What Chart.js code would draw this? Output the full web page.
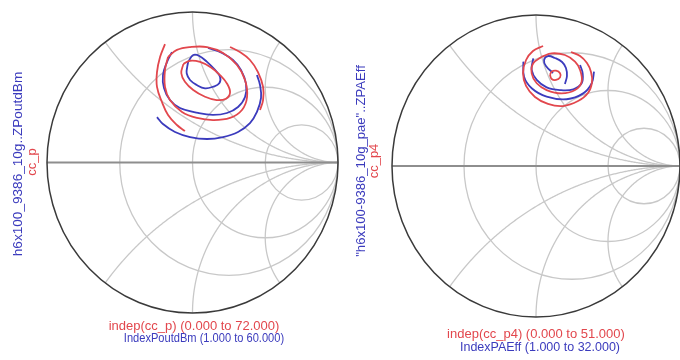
<!DOCTYPE html>
<html>
<head>
<meta charset="utf-8">
<script src="https://cdn.jsdelivr.net/npm/chart.js@4.4.1/dist/chart.umd.min.js"></script>
<style>
  body { margin: 0; width: 680px; height: 360px; background: #fff; position: relative; overflow: hidden;
         font-family: Arial, "Liberation Sans", sans-serif; }
  canvas { position: absolute; top: 0; }
  .lbl { position: absolute; white-space: nowrap; font-size: 13px; line-height: 13px;
         transform: translate(-50%, -50%); }
  .rot { transform: translate(-50%, -50%) rotate(-90deg); }
  .red { color: #e2474d; }
  .blue { color: #3b3bbd; }
</style>
</head>
<body>
<canvas id="poutChart" width="345" height="360" style="left:0"></canvas>
<canvas id="paeChart" width="335" height="360" style="left:345px"></canvas>

<div class="lbl rot blue" style="left:17px;top:164px;font-size:13.6px">h6x100_9386_10g..ZPoutdBm</div>
<div class="lbl rot red" style="left:31px;top:162px">cc_p</div>
<div class="lbl red" style="left:194px;top:325px">indep(cc_p) (0.000 to 72.000)</div>
<div class="lbl blue" style="left:204px;top:338px;font-size:12.2px;transform:translate(-50%,-50%) scaleX(0.91)">IndexPoutdBm (1.000 to 60.000)</div>

<div class="lbl rot blue" style="left:360px;top:161px;font-size:13.1px">"h6x100-9386_10g_pae"..ZPAEff</div>
<div class="lbl rot red" style="left:373px;top:161px">cc_p4</div>
<div class="lbl red" style="left:536px;top:333px">indep(cc_p4) (0.000 to 51.000)</div>
<div class="lbl blue" style="left:540px;top:347px;font-size:12.5px">IndexPAEff (1.000 to 32.000)</div>

<script>
// Smith chart grid values
const rCircles = [1 / 3, 1, 3];
const xArcs = [0.5, 1, 2, -0.5, -1, -2];

// Output power contours, reflection coefficient [re, im]
const ccP_inner = [[-0.063,0.654],[-0.077,0.593],[-0.052,0.537],[0.005,0.482],[0.086,0.437],[0.166,0.415],
  [0.230,0.424],[0.258,0.464],[0.239,0.522],[0.189,0.581],[0.125,0.633],[0.052,0.668],[-0.017,0.676],[-0.063,0.654]];
const ccP_mid = [[-0.168,0.701],[-0.107,0.748],[-0.017,0.767],[0.100,0.767],[0.210,0.728],[0.306,0.648],
  [0.361,0.548],[0.375,0.435],[0.340,0.349],[0.258,0.296],[0.141,0.282],[0.031,0.296],[-0.072,0.336],
  [-0.155,0.415],[-0.189,0.502],[-0.189,0.615],[-0.168,0.701]];
const ccP_outerL = [[-0.189,0.787],[-0.223,0.701],[-0.244,0.601],[-0.244,0.502],[-0.210,0.402],
  [-0.168,0.316],[-0.107,0.249],[-0.052,0.209]];
const ccP_outerR = [[0.258,0.767],[0.326,0.734],[0.395,0.681],[0.450,0.601],[0.485,0.502],[0.485,0.415],[0.464,0.349]];

const zPout_inner = [[-0.029,0.670],[0.005,0.714],[0.047,0.708],[0.098,0.670],[0.155,0.615],[0.189,0.570],
  [0.184,0.526],[0.143,0.504],[0.086,0.493],[0.029,0.515],[-0.017,0.548],[-0.040,0.593],[-0.036,0.637],[-0.029,0.670]];
const zPout_mid = [[-0.141,0.734],[-0.175,0.668],[-0.203,0.581],[-0.196,0.495],[-0.155,0.415],[-0.086,0.362],
  [0.038,0.329],[0.141,0.316],[0.237,0.329],[0.313,0.369],[0.361,0.435],[0.368,0.522],[0.333,0.615],
  [0.278,0.681],[0.203,0.728],[0.107,0.761]];
const zPout_outer = [[-0.244,0.302],[-0.203,0.256],[-0.120,0.203],[-0.017,0.169],[0.100,0.156],[0.210,0.169],
  [0.313,0.203],[0.395,0.262],[0.443,0.336],[0.471,0.429],[0.464,0.515],[0.443,0.581]];

// PAE contours
const ccP4_inner = [[0.097,0.603],[0.109,0.625],[0.139,0.631],[0.167,0.614],[0.167,0.587],[0.139,0.570],
  [0.109,0.576],[0.097,0.603]];
const ccP4_mid = [[0.040,0.724],[-0.019,0.680],[-0.030,0.614],[0.005,0.548],[0.074,0.503],[0.178,0.481],
  [0.271,0.503],[0.317,0.558],[0.306,0.636],[0.271,0.691],[0.201,0.735],[0.109,0.746],[0.040,0.724]];
const ccP4_outer = [[0.243,0.755],[0.306,0.728],[0.354,0.682],[0.382,0.623],[0.389,0.556],[0.361,0.483],
  [0.292,0.430],[0.188,0.397],[0.083,0.411],[-0.007,0.457],[-0.069,0.530],[-0.090,0.616],[-0.069,0.702],
  [-0.021,0.762],[0.049,0.795]];

const zPae_inner = [[0.118,0.616],[0.069,0.662],[0.056,0.702],[0.083,0.728],[0.132,0.715],[0.181,0.689],
  [0.208,0.649],[0.215,0.596],[0.201,0.543]];
const zPae_mid = [[-0.019,0.713],[-0.030,0.636],[0.005,0.570],[0.074,0.521],[0.167,0.503],[0.259,0.508],
  [0.317,0.548],[0.324,0.614],[0.306,0.669]];
const zPae_outer = [[-0.088,0.691],[-0.083,0.591],[-0.030,0.515],[0.074,0.459],[0.213,0.442],[0.328,0.481],
  [0.387,0.548],[0.403,0.625]];

const RED = '#e2474d';
const BLUE = '#3b3bbd';

function series(pts, color) {
  return {
    data: pts.map(p => ({ x: p[0], y: p[1] })),
    showLine: true,
    borderColor: color,
    borderWidth: 1.8,
    pointRadius: 0,
    tension: 0.4,
    fill: false
  };
}

// --- Smith grid drawn through the chart scales ---
const smithGrid = {
  id: 'smithGrid',
  beforeDatasetsDraw(chart) {
    const { ctx, scales: { x: xs, y: ys } } = chart;
    const px = v => xs.getPixelForValue(v);
    const py = v => ys.getPixelForValue(v);
    const ux = px(1) - px(0), uy = py(0) - py(1);
    ctx.save();
    ctx.strokeStyle = '#c8c8c8';
    ctx.lineWidth = 1.3;

    rCircles.forEach(r => {
      const c = r / (1 + r), rad = 1 / (1 + r);
      ctx.beginPath();
      ctx.ellipse(px(c), py(0), rad * ux, rad * uy, 0, 0, Math.PI * 2);
      ctx.stroke();
    });

    xArcs.forEach(x => {
      ctx.beginPath();
      for (let i = 0; i <= 300; i++) {
        const t = i / 300 * 0.998;
        const r = t / (1 - t);
        const d = (r + 1) * (r + 1) + x * x;
        const re = (r * r - 1 + x * x) / d, im = 2 * x / d;
        if (i === 0) ctx.moveTo(px(re), py(im)); else ctx.lineTo(px(re), py(im));
      }
      ctx.lineTo(px(1), py(0));
      ctx.stroke();
    });

    // real axis
    ctx.strokeStyle = '#8e8e8e';
    ctx.lineWidth = 2.2;
    ctx.beginPath();
    ctx.moveTo(px(-1), py(0));
    ctx.lineTo(px(1), py(0));
    ctx.stroke();

    // unit circle
    ctx.strokeStyle = '#3a3a3a';
    ctx.lineWidth = 1.5;
    ctx.beginPath();
    ctx.ellipse(px(0), py(0), ux, uy, 0, 0, Math.PI * 2);
    ctx.stroke();
    ctx.restore();
  }
};

function makeChart(id, pad, sets) {
  return new Chart(document.getElementById(id), {
    type: 'scatter',
    data: { datasets: sets },
    options: {
      responsive: false,
      animation: false,
      layout: { padding: pad },
      scales: {
        x: { type: 'linear', min: -1, max: 1, display: false },
        y: { type: 'linear', min: -1, max: 1, display: false }
      },
      plugins: { legend: { display: false }, tooltip: { enabled: false } }
    },
    plugins: [smithGrid]
  });
}

makeChart('poutChart', { left: 47, right: 7, top: 12, bottom: 47 }, [
  series(ccP_inner, RED), series(ccP_mid, RED), series(ccP_outerL, RED), series(ccP_outerR, RED),
  series(zPout_inner, BLUE), series(zPout_mid, BLUE), series(zPout_outer, BLUE)
]);

makeChart('paeChart', { left: 47, right: 0, top: 15, bottom: 43 }, [
  series(ccP4_inner, RED), series(ccP4_mid, RED), series(ccP4_outer, RED),
  series(zPae_inner, BLUE), series(zPae_mid, BLUE), series(zPae_outer, BLUE)
]);
</script>
</body>
</html>
